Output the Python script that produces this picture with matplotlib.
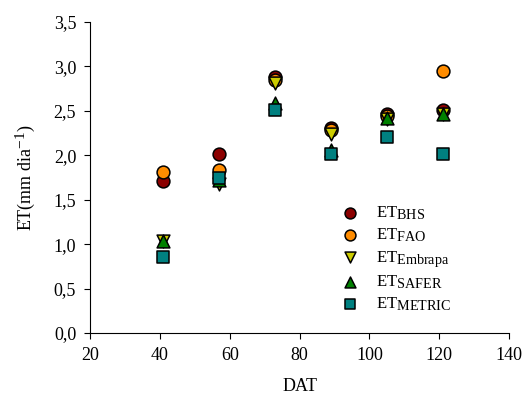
import matplotlib
matplotlib.use("Agg")
import matplotlib.pyplot as plt
import matplotlib._mathtext as mathtext_core
from matplotlib.ticker import FuncFormatter

plt.rcParams['font.family'] = ['Liberation Serif', 'DejaVu Serif']
plt.rcParams['mathtext.fontset'] = 'custom'
plt.rcParams['mathtext.rm'] = 'Liberation Serif'
plt.rcParams['mathtext.it'] = 'Liberation Serif:italic'
# larger sub/superscripts, closer to a word-processor look
mathtext_core.SHRINK_FACTOR = 0.85

dat = [41, 57, 73, 89, 105, 121]
et_bhs = [1.71, 2.01, 2.88, 2.31, 2.46, 2.51]
et_fao = [1.81, 1.84, 2.85, 2.28, 2.44, 2.95]
et_embrapa = [1.03, 1.68, 2.81, 2.24, 2.41, 2.46]
et_safer = [1.03, 1.72, 2.59, 2.06, 2.42, 2.46]
et_metric = [0.85, 1.74, 2.51, 2.01, 2.21, 2.01]

series = [
    (et_bhs, 'o', '#8B0000', r'ET$_{\mathrm{BHS}}$'),
    (et_fao, 'o', '#FF8C00', r'ET$_{\mathrm{FAO}}$'),
    (et_embrapa, 'v', '#CCCC00', r'ET$_{\mathrm{Embrapa}}$'),
    (et_safer, '^', '#008000', r'ET$_{\mathrm{SAFER}}$'),
    (et_metric, 's', '#008080', r'ET$_{\mathrm{METRIC}}$'),
]

fig = plt.figure(figsize=(5.27, 4.0), dpi=100)
ax = fig.add_axes([0.171, 0.1675, 0.795, 0.7775])

for vals, mk, col, lab in series:
    ax.scatter(dat, vals, marker=mk, s=85, c=col, edgecolors='black',
               linewidths=1.1, label=lab)

ax.set_xlim(20, 140)
ax.set_ylim(0, 3.5)
ax.set_xticks(range(20, 141, 20))
ax.set_yticks([i * 0.5 for i in range(8)])
ax.yaxis.set_major_formatter(FuncFormatter(lambda v, p: f"{v:.1f}".replace('.', ',')))
ax.spines['top'].set_visible(False)
ax.spines['right'].set_visible(False)
ax.tick_params(direction='out', length=4, labelsize=13, pad=6)
ax.set_xlabel('DAT', fontsize=13, labelpad=10)
ax.set_ylabel(r'ET(mm dia$^{-1}$)', fontsize=13, labelpad=12)

ax.legend(loc='upper left', bbox_to_anchor=(0.584, 0.435), frameon=False,
          fontsize=12, handlelength=1.0, handletextpad=1.1, labelspacing=0.28,
          markerscale=0.85, scatterpoints=1, borderaxespad=0)

fig.savefig('out.png', dpi=100)
